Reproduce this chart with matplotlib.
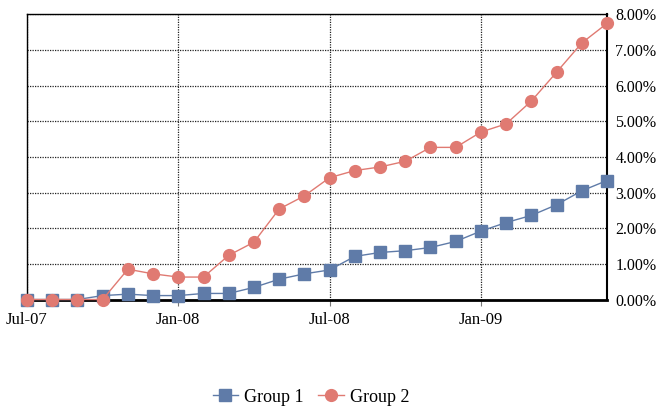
import matplotlib
matplotlib.use("Agg")
import matplotlib.pyplot as plt
from matplotlib.ticker import FuncFormatter, MultipleLocator

plt.rcParams['font.family'] = ['Liberation Serif', 'DejaVu Serif']

months = ["Jul-07", "Aug-07", "Sep-07", "Oct-07", "Nov-07", "Dec-07",
          "Jan-08", "Feb-08", "Mar-08", "Apr-08", "May-08", "Jun-08",
          "Jul-08", "Aug-08", "Sep-08", "Oct-08", "Nov-08", "Dec-08",
          "Jan-09", "Feb-09", "Mar-09", "Apr-09", "May-09", "Jun-09"]
group1 = [0.00, 0.00, 0.00, 0.11, 0.15, 0.11, 0.11, 0.17, 0.17, 0.34, 0.57, 0.72,
          0.83, 1.21, 1.32, 1.37, 1.46, 1.63, 1.92, 2.16, 2.36, 2.66, 3.05, 3.34]
group2 = [0.00, 0.00, 0.00, 0.00, 0.85, 0.72, 0.63, 0.63, 1.24, 1.61, 2.54, 2.91,
          3.42, 3.62, 3.72, 3.88, 4.27, 4.27, 4.70, 4.93, 5.57, 6.38, 7.20, 7.75]
tick_labels = ["Jul-07", "Jan-08", "Jul-08", "Jan-09"]
tick_pos = [months.index(t) for t in tick_labels]

fig = plt.figure(figsize=(6.56, 4.12), dpi=100)
ax = fig.add_axes([27/656, 1-299.5/412, (607-27)/656, (299.5-14.5)/412])

x = list(range(len(months)))
c1 = "#5F7BA8"
c2 = "#E07A72"
ax.plot(x, group1, color=c1, lw=1.0, marker="s", ms=8.5, mec=c1, mfc=c1,
        label="Group 1", zorder=3, clip_on=False)
ax.plot(x, group2, color=c2, lw=1.0, marker="o", ms=8.5, mec=c2, mfc=c2,
        label="Group 2", zorder=4, clip_on=False)

ax.set_xlim(0, len(months) - 1)
ax.set_ylim(0, 8)
ax.set_xticks(tick_pos)
ax.set_xticklabels(tick_labels)
ax.yaxis.set_major_locator(MultipleLocator(1))
ax.yaxis.set_major_formatter(FuncFormatter(lambda v, p: f"{v:.2f}%"))
ax.yaxis.tick_right()
ax.tick_params(axis="y", length=0, pad=6, labelsize=11.5)
ax.tick_params(axis="x", length=4, width=0.8, direction="out", color="#777777",
               pad=5, labelsize=12)

ax.grid(True, which="major", color="#222222", linestyle=(0, (1, 1)), lw=0.9)
ax.set_axisbelow(True)
for s in ax.spines.values():
    s.set_color("black")
    s.set_linewidth(1.0)
    s.set_zorder(2.5)
ax.spines["bottom"].set_linewidth(2.0)
ax.spines["right"].set_linewidth(1.5)

fig.legend(loc="center", bbox_to_anchor=(0.474, 0.036), ncol=2, frameon=False,
           fontsize=13, handlelength=1.4, columnspacing=0.8, handletextpad=0.35,
           markerscale=1.0)

fig.savefig("out.png", dpi=100)
